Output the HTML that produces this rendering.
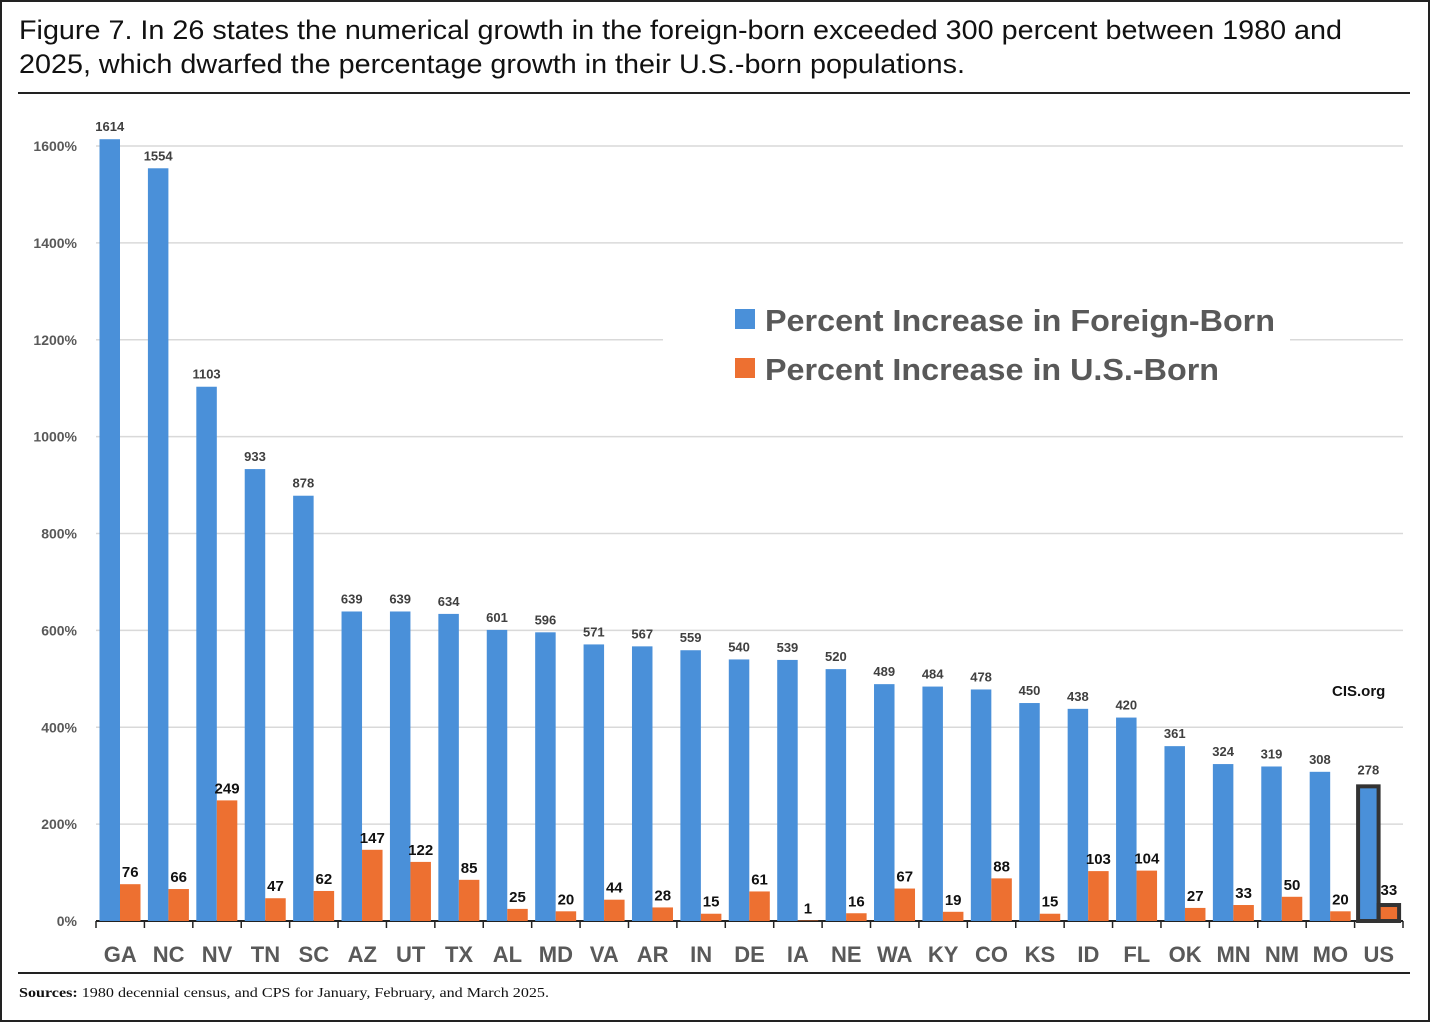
<!DOCTYPE html>
<html><head><meta charset="utf-8"><style>
body{margin:0;background:#fff;}
svg text{font-family:"Liberation Sans",sans-serif;}
</style></head><body>
<svg id="c" width="1430" height="1022" xmlns="http://www.w3.org/2000/svg">
<rect x="1" y="1" width="1428" height="1020" fill="#fff" stroke="#222" stroke-width="2"/>
<text x="19" y="39" font-size="27" fill="#111" textLength="1323" lengthAdjust="spacingAndGlyphs">Figure 7. In 26 states the numerical growth in the foreign-born exceeded 300 percent between 1980 and</text>
<text x="19" y="73" font-size="27" fill="#111" textLength="946" lengthAdjust="spacingAndGlyphs">2025, which dwarfed the percentage growth in their U.S.-born populations.</text>
<line x1="18" y1="93" x2="1410" y2="93" stroke="#222" stroke-width="2"/>
<line x1="18" y1="973" x2="1410" y2="973" stroke="#222" stroke-width="2"/>
<text x="19" y="997" font-size="14" fill="#111" textLength="530" lengthAdjust="spacingAndGlyphs" style="font-family:'Liberation Serif',serif"><tspan font-weight="bold">Sources:</tspan> 1980 decennial census, and CPS for January, February, and March 2025.</text>
<g id="grid"></g><g id="bars"></g>
<rect x="663" y="296" width="627" height="100" fill="#fff"/>
<rect x="735" y="309" width="20" height="20" fill="#4a90d9"/>
<text x="765" y="331" font-size="31" font-weight="bold" fill="#595959" textLength="510" lengthAdjust="spacingAndGlyphs">Percent Increase in Foreign-Born</text>
<rect x="735" y="358" width="20" height="20" fill="#ed7031"/>
<text x="765" y="380" font-size="31" font-weight="bold" fill="#595959" textLength="454" lengthAdjust="spacingAndGlyphs">Percent Increase in U.S.-Born</text>
<text x="1332" y="696" font-size="15" font-weight="bold" fill="#111">CIS.org</text>
</svg>
<script>
const categories=["GA","NC","NV","TN","SC","AZ","UT","TX","AL","MD","VA","AR","IN","DE","IA","NE","WA","KY","CO","KS","ID","FL","OK","MN","NM","MO","US"];
const foreignBorn=[1614,1554,1103,933,878,639,639,634,601,596,571,567,559,540,539,520,489,484,478,450,438,420,361,324,319,308,278];
const usBorn=[76,66,249,47,62,147,122,85,25,20,44,28,15,61,1,16,67,19,88,15,103,104,27,33,50,20,33];
const yTicks=[0,200,400,600,800,1000,1200,1400,1600];
const NS="http://www.w3.org/2000/svg";
const x0=96,x1=1403,y0=921,yTop=146;
const band=(x1-x0)/categories.length;
const y=v=>y0-(v/1600)*(y0-yTop);
const xb=i=>x0+i*band;
function mk(t,a,p){const e=document.createElementNS(NS,t);for(const k in a)e.setAttribute(k,a[k]);p.appendChild(e);return e;}
const g=document.getElementById('grid'),b=document.getElementById('bars');
yTicks.forEach(t=>{
 if(t>0){const l=mk('line',{x1:x0,x2:x1,y1:y(t),y2:y(t),stroke:'#d9d9d9','stroke-width':1.5},g);
 
 }
 const tx=mk('text',{x:77,y:y(t)+5,'text-anchor':'end','font-size':14,'font-weight':'bold',fill:'#595959'},g);
 tx.textContent=t+'%';
 
 
});
const ax=mk('line',{x1:x0,x2:x1,y1:y0,y2:y0,stroke:'#222','stroke-width':2},g);


for(let i=0;i<=categories.length;i++){
 const t=mk('line',{x1:xb(i),x2:xb(i),y1:y0,y2:y0+7,stroke:'#222','stroke-width':1.5},g);
 
 
}
const bw=20.5;
categories.forEach((c,i)=>{
 const bx=xb(i)+3.5,ox=bx+bw;
 const r1=mk('rect',{x:bx,y:y(foreignBorn[i]),width:bw,height:y0-y(foreignBorn[i]),fill:'#4a90d9'},b);
 
 
 const r2=mk('rect',{x:ox,y:y(usBorn[i]),width:bw,height:y0-y(usBorn[i]),fill:'#ed7031'},b);
 
 
 if(c==='US'){
  const o1=mk('rect',{x:bx,y:y(foreignBorn[i]),width:bw,height:y0-y(foreignBorn[i]),fill:'none',stroke:'#333','stroke-width':4},b);
  
  
  const o2=mk('rect',{x:ox,y:y(usBorn[i]),width:bw,height:y0-y(usBorn[i]),fill:'none',stroke:'#333','stroke-width':4},b);
  
  
 }
 const l1=mk('text',{x:bx+bw/2,y:y(foreignBorn[i])-(c==='US'?12:8),'text-anchor':'middle','font-size':13,'font-weight':'bold',fill:'#404040'},b);
 l1.textContent=foreignBorn[i];
 
 
 const l2=mk('text',{x:ox+bw/2,y:y(usBorn[i])-(c==='US'?10:7),'text-anchor':'middle','font-size':15,'font-weight':'bold',fill:'#111'},b);
 l2.textContent=usBorn[i];
 
 
 const cl=mk('text',{x:xb(i)+band/2,y:962,'text-anchor':'middle','font-size':22,'font-weight':'bold',fill:'#595959'},b);
 cl.textContent=c;
 
 
});
</script>
</body></html>
